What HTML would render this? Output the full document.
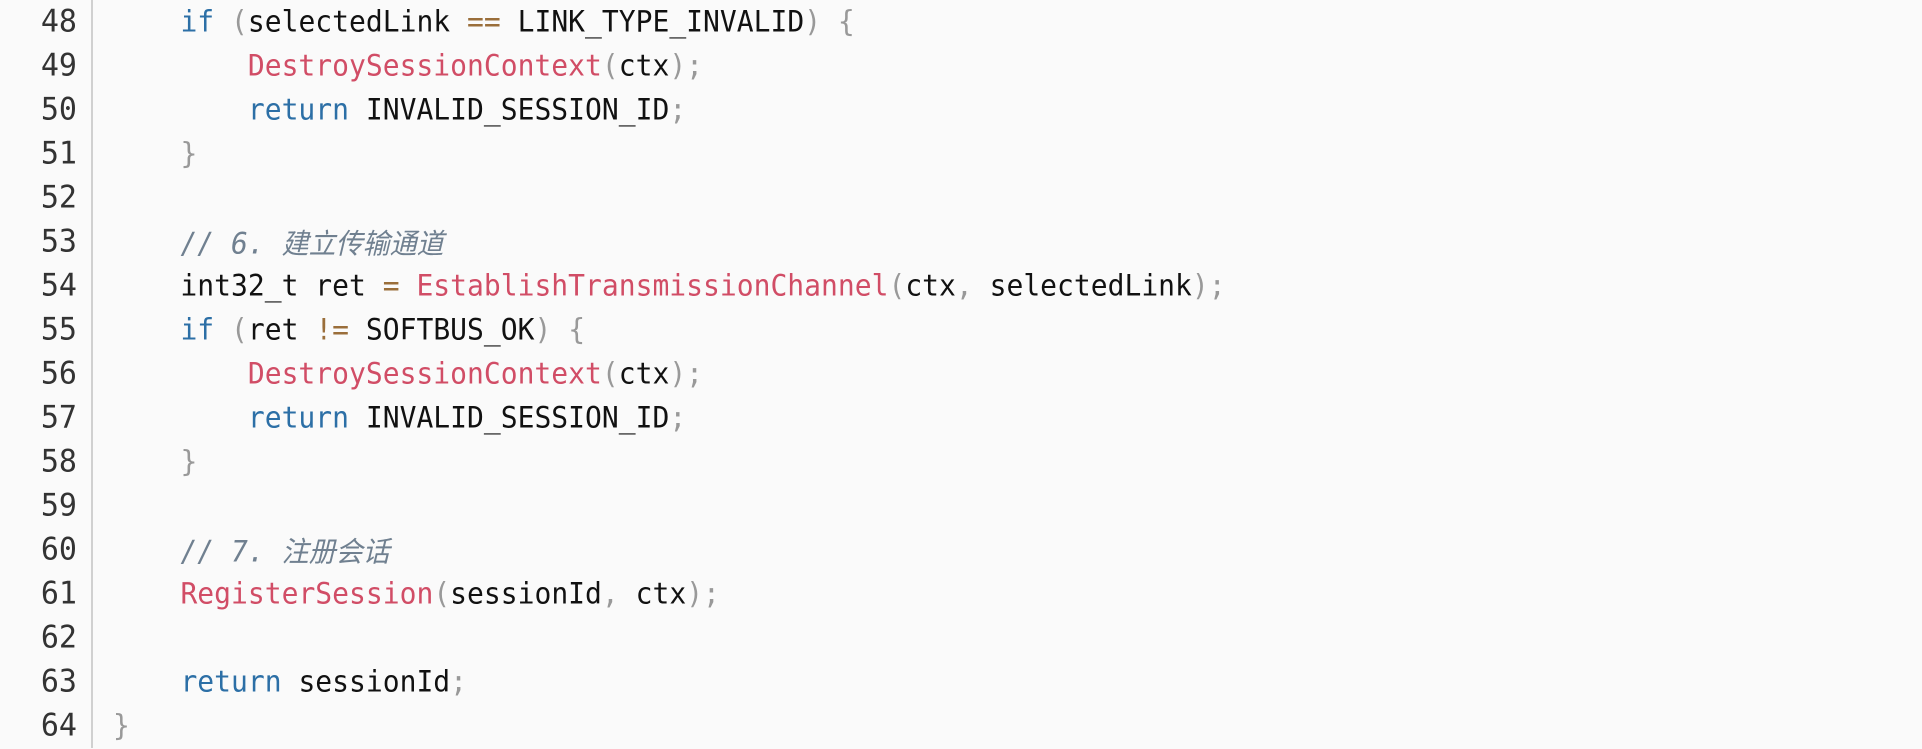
<!DOCTYPE html>
<html><head><meta charset="utf-8"><style>
html,body{margin:0;padding:0;}
body{width:1922px;height:748px;background:#fafafa;position:relative;overflow:hidden;}
.gutter{position:absolute;left:91px;top:0;width:2px;height:748px;background:#d0d0d0;}
.ln{position:absolute;left:0;width:77px;text-align:right;font-family:"DejaVu Sans Mono","Liberation Mono",monospace;font-size:30px;line-height:44px;color:#333;transform:scaleY(1.05);}
.cl{position:absolute;left:113px;font-family:"DejaVu Sans Mono","Liberation Mono","Noto Sans CJK SC",monospace;font-size:28px;line-height:44px;color:#111;white-space:pre;transform:scaleY(1.05);}
.k{color:#2c6fa6}.f{color:#d14d66}.p{color:#999}.o{color:#9a6e3a}
.c{color:#708090;font-style:italic}
.cj{font-family:"Noto Sans CJK SC",sans-serif;font-size:27px;}
</style></head><body>
<div class="gutter"></div>
<div class="ln" style="top:0px">48</div>
<div class="ln" style="top:44px">49</div>
<div class="ln" style="top:88px">50</div>
<div class="ln" style="top:132px">51</div>
<div class="ln" style="top:176px">52</div>
<div class="ln" style="top:220px">53</div>
<div class="ln" style="top:264px">54</div>
<div class="ln" style="top:308px">55</div>
<div class="ln" style="top:352px">56</div>
<div class="ln" style="top:396px">57</div>
<div class="ln" style="top:440px">58</div>
<div class="ln" style="top:484px">59</div>
<div class="ln" style="top:528px">60</div>
<div class="ln" style="top:572px">61</div>
<div class="ln" style="top:616px">62</div>
<div class="ln" style="top:660px">63</div>
<div class="ln" style="top:704px">64</div>

<div class="cl" style="top:0px">    <span class="k">if</span> <span class="p">(</span>selectedLink <span class="o">==</span> LINK_TYPE_INVALID<span class="p">)</span> <span class="p">{</span></div>
<div class="cl" style="top:44px">        <span class="f">DestroySessionContext</span><span class="p">(</span>ctx<span class="p">);</span></div>
<div class="cl" style="top:88px">        <span class="k">return</span> INVALID_SESSION_ID<span class="p">;</span></div>
<div class="cl" style="top:132px">    <span class="p">}</span></div>
<div class="cl" style="top:220px">    <span class="c">// 6. <span class="cj">建立传输通道</span></span></div>
<div class="cl" style="top:264px">    int32_t ret <span class="o">=</span> <span class="f">EstablishTransmissionChannel</span><span class="p">(</span>ctx<span class="p">,</span> selectedLink<span class="p">);</span></div>
<div class="cl" style="top:308px">    <span class="k">if</span> <span class="p">(</span>ret <span class="o">!=</span> SOFTBUS_OK<span class="p">)</span> <span class="p">{</span></div>
<div class="cl" style="top:352px">        <span class="f">DestroySessionContext</span><span class="p">(</span>ctx<span class="p">);</span></div>
<div class="cl" style="top:396px">        <span class="k">return</span> INVALID_SESSION_ID<span class="p">;</span></div>
<div class="cl" style="top:440px">    <span class="p">}</span></div>
<div class="cl" style="top:528px">    <span class="c">// 7. <span class="cj">注册会话</span></span></div>
<div class="cl" style="top:572px">    <span class="f">RegisterSession</span><span class="p">(</span>sessionId<span class="p">,</span> ctx<span class="p">);</span></div>
<div class="cl" style="top:660px">    <span class="k">return</span> sessionId<span class="p">;</span></div>
<div class="cl" style="top:704px"><span class="p">}</span></div>
</body></html>
